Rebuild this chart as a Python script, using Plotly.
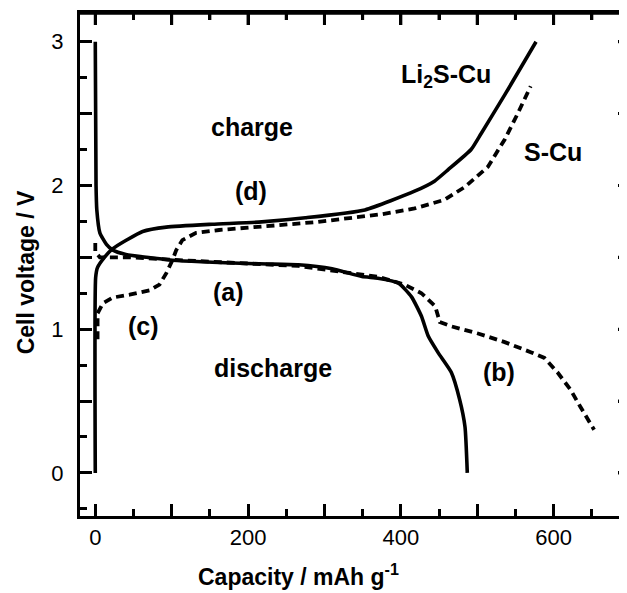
import plotly.graph_objects as go

# ---- data ----
li2s_dis_x = [0, 1, 2, 6, 14.6, 23, 40, 67, 101, 214, 266, 310, 349, 370, 397, 414, 427, 436, 449, 466, 477, 484, 487]
li2s_dis_y = [3.0, 2.0, 1.83, 1.67, 1.59, 1.55, 1.52, 1.50, 1.48, 1.455, 1.448, 1.42, 1.366, 1.355, 1.32, 1.225, 1.09, 0.95, 0.835, 0.70, 0.51, 0.32, 0.0]

li2s_chg_x = [0, 0.5, 3, 12, 23, 41, 62, 93, 153, 214, 275, 353, 418, 444, 462, 492, 505, 536, 577]
li2s_chg_y = [0.0, 1.36, 1.43, 1.50, 1.56, 1.62, 1.68, 1.71, 1.73, 1.745, 1.775, 1.83, 1.96, 2.03, 2.11, 2.25, 2.36, 2.63, 3.0]

s_dis_x = [0, 0, 6, 45, 110, 214, 266, 370, 405, 427, 445, 451, 466, 501, 536, 570, 588, 605, 622, 635, 653]
s_dis_y = [1.6, 1.54, 1.50, 1.50, 1.48, 1.45, 1.44, 1.365, 1.31, 1.25, 1.16, 1.05, 1.02, 0.97, 0.91, 0.84, 0.80, 0.70, 0.58, 0.46, 0.30]

s_chg_x = [3, 3, 10, 23, 45, 71, 84, 93, 101, 106, 114, 132, 162, 214, 289, 375, 418, 457, 484, 514, 536, 553, 570]
s_chg_y = [0.93, 1.11, 1.18, 1.22, 1.24, 1.27, 1.31, 1.39, 1.48, 1.55, 1.62, 1.67, 1.69, 1.71, 1.745, 1.80, 1.84, 1.90, 1.99, 2.13, 2.32, 2.50, 2.69]

x_tickvals = [0, 100, 200, 300, 400, 500, 600]
x_ticktext = ["0", "", "200", "", "400", "", "600"]
y_tickvals = [0, 0.5, 1, 1.5, 2, 2.5, 3]
y_ticktext = ["0", "", "1", "", "2", "", "3"]

labels = ["Li<sub>2</sub>S-Cu", "S-Cu", "charge", "(d)", "(a)", "(c)", "discharge", "(b)"]
label_x = [459, 599, 204.6, 204, 174, 63, 233, 528]
label_y = [2.76, 2.23, 2.41, 1.96, 1.26, 1.02, 0.73, 0.70]

FONT = "Liberation Sans, Arial, sans-serif"
DASH = "8px,5px"
X_RANGE = [-20, 700]
Y_RANGE = [-0.3, 3.2]
W, H = 627, 593
M = dict(l=72, r=2, t=5, b=85)
PLOT_W = W - M["l"] - M["r"]
PLOT_H = H - M["t"] - M["b"]
MAJOR_LEN, MINOR_LEN = 12, 7

fig = go.Figure()
fig.add_trace(go.Scatter(x=s_chg_x, y=s_chg_y, mode="lines",
                         line=dict(color="black", width=3.8, dash=DASH)))
fig.add_trace(go.Scatter(x=s_dis_x, y=s_dis_y, mode="lines",
                         line=dict(color="black", width=3.8, dash=DASH)))
fig.add_trace(go.Scatter(x=li2s_chg_x, y=li2s_chg_y, mode="lines",
                         line=dict(color="black", width=3.6, shape="spline", smoothing=0.5)))
fig.add_trace(go.Scatter(x=li2s_dis_x, y=li2s_dis_y, mode="lines",
                         line=dict(color="black", width=3.6, shape="spline", smoothing=0.5)))
# top frame edge along the upper end of the y range
fig.add_trace(go.Scatter(x=X_RANGE, y=[Y_RANGE[1], Y_RANGE[1]], mode="lines",
                         line=dict(color="black", width=3), cliponaxis=False,
                         hoverinfo="skip"))

for t, xx, yy in zip(labels, label_x, label_y):
    fig.add_annotation(x=xx, y=yy, text=t, showarrow=False,
                       xanchor="center", yanchor="middle",
                       font=dict(family=FONT, size=25, color="black", weight="bold"))

# axis titles
fig.add_annotation(xref="paper", yref="paper", x=0.398, y=-0.117,
                   xanchor="center", yanchor="middle",
                   text="Capacity / mAh g<sup>-1</sup>", showarrow=False,
                   font=dict(family=FONT, size=23, color="black", weight="bold"))
fig.add_annotation(xref="paper", yref="paper", x=-0.0977, y=0.485, textangle=-90,
                   xanchor="center", yanchor="middle",
                   text="Cell voltage / V", showarrow=False,
                   font=dict(family=FONT, size=23, color="black", weight="bold"))

# top frame line and top/right tick marks (frame decoration through the axes' scales)
frame = dict(color="black", width=3)
fig.add_shape(type="line", xref="paper", yref="paper", x0=0, x1=1, y0=1, y1=1,
              line=frame, layer="above")
x_minor = [v + 50 for v in x_tickvals]
y_minor = [v - 0.25 for v in y_tickvals]
for v in x_tickvals:
    fig.add_shape(type="line", xref="x", yref="paper", x0=v, x1=v,
                  y0=1, y1=1 - MAJOR_LEN / PLOT_H, line=frame, layer="above")
for v in x_minor:
    fig.add_shape(type="line", xref="x", yref="paper", x0=v, x1=v,
                  y0=1, y1=1 - MINOR_LEN / PLOT_H, line=frame, layer="above")
for v in y_tickvals:
    fig.add_shape(type="line", xref="paper", yref="y", y0=v, y1=v,
                  x0=1, x1=1 - MAJOR_LEN / PLOT_W, line=frame, layer="above")
for v in y_minor:
    fig.add_shape(type="line", xref="paper", yref="y", y0=v, y1=v,
                  x0=1, x1=1 - MINOR_LEN / PLOT_W, line=frame, layer="above")

fig.update_layout(
    width=W, height=H,
    margin=M,
    paper_bgcolor="white", plot_bgcolor="white",
    showlegend=False,
    xaxis=dict(range=X_RANGE, tickvals=x_tickvals, ticktext=x_ticktext,
               showgrid=False, zeroline=False, showline=True,
               linecolor="black", linewidth=3, mirror="allticks",
               ticks="inside", ticklen=MAJOR_LEN, tickwidth=3, tickcolor="black",
               tickfont=dict(family=FONT, size=22, color="black"),
               minor=dict(ticks="inside", dtick=50, tick0=0, ticklen=MINOR_LEN,
                          tickwidth=3, tickcolor="black", showgrid=False)),
    yaxis=dict(range=Y_RANGE, tickvals=y_tickvals, ticktext=y_ticktext,
               showgrid=False, zeroline=False, showline=True,
               linecolor="black", linewidth=3, mirror="allticks",
               ticks="inside", ticklen=MAJOR_LEN, tickwidth=3, tickcolor="black",
               tickfont=dict(family=FONT, size=22, color="black"),
               ticklabelstandoff=9,
               minor=dict(ticks="inside", dtick=0.25, tick0=0, ticklen=MINOR_LEN,
                          tickwidth=3, tickcolor="black", showgrid=False)),
)

fig.write_html("out.html")
